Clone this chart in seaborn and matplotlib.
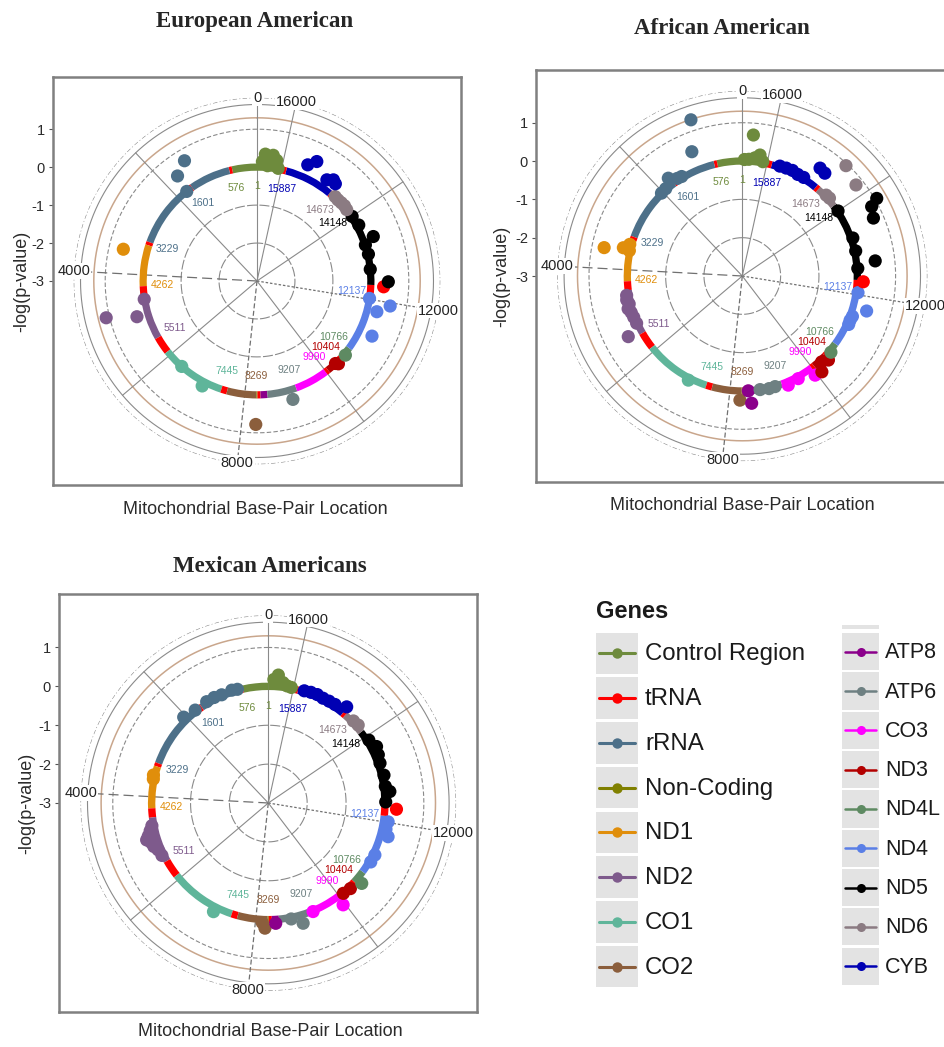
import numpy as np
import pandas as pd
import matplotlib
matplotlib.use("Agg")
import matplotlib.pyplot as plt
import seaborn as sns
from matplotlib.patches import Rectangle
from matplotlib.lines import Line2D

sns.set_theme(style="white")
plt.rcParams["font.family"] = ["Liberation Sans", "DejaVu Sans"]

# ---------------- data ----------------
GENOME = 16569

gene_names = ["Control Region", "tRNA", "rRNA", "Non-Coding", "ND1", "ND2", "CO1", "CO2",
              "ATP8", "ATP6", "CO3", "ND3", "ND4L", "ND4", "ND5", "ND6", "CYB"]
gene_colors = ["#6e8b3d", "#ff0000", "#4d7089", "#808000", "#e08e0b", "#7e5a8c", "#5fb59a", "#8b5e3c",
               "#8b008b", "#6e8082", "#ff00ff", "#b30000", "#5e8a62", "#5a7fe6", "#000000", "#8b7b82", "#0000b3"]
legend_col1 = ["Control Region", "tRNA", "rRNA", "Non-Coding", "ND1", "ND2", "CO1", "CO2"]
legend_col2 = ["ATP8", "ATP6", "CO3", "ND3", "ND4L", "ND4", "ND5", "ND6", "CYB"]

seg_gene = ["Control Region", "Control Region", "tRNA", "rRNA", "tRNA", "rRNA", "tRNA", "ND1", "tRNA",
            "ND2", "tRNA", "CO1", "tRNA", "CO2", "Non-Coding", "tRNA", "ATP8", "ATP6", "CO3", "tRNA",
            "ND3", "tRNA", "ND4L", "ND4", "tRNA", "ND5", "ND6", "tRNA", "CYB", "tRNA"]
seg_start = [16024, 0, 577, 648, 1602, 1671, 3230, 3307, 4263, 4470, 5512, 5904, 7446, 7586, 8270,
             8295, 8366, 8527, 9208, 9991, 10059, 10405, 10470, 10767, 12138, 12337, 14149, 14674,
             14747, 15888]
seg_end = [16569, 576, 647, 1601, 1670, 3229, 3306, 4262, 4469, 5511, 5903, 7445, 7585, 8269, 8294,
           8365, 8526, 9207, 9990, 10058, 10404, 10469, 10766, 12137, 12336, 14148, 14673, 14746,
           15887, 16023]

label_pos = [1, 576, 1601, 3229, 4262, 5511, 7445, 8269, 9207, 9990, 10404, 10766, 12137, 14148, 14673, 15887]
label_gene = ["Control Region", "Control Region", "rRNA", "rRNA", "ND1", "ND2", "CO1", "CO2", "ATP6",
              "CO3", "ND3", "ND4L", "ND4", "ND5", "ND6", "CYB"]

theta_breaks = [0, 4000, 8000, 12000, 16000]
theta_minor = [2000, 6000, 10000, 14000]
r_ticks = [1, 0, -1, -2, -3]

# European American
ea_gene = ["Control Region", "Control Region", "Control Region", "Control Region", "Control Region", "Control Region",
           "rRNA", "rRNA", "rRNA", "ND1", "ND2", "ND2", "ND2", "CO1", "CO1", "CO2", "ATP6", "ND3", "ND3", "ND4L",
           "ND4", "ND4", "ND4", "ND4", "tRNA",
           "ND5", "ND5", "ND5", "ND5", "ND5", "ND5", "ND5",
           "ND6", "ND6", "ND6", "ND6", "ND6",
           "CYB", "CYB", "CYB", "CYB", "CYB"]
ea_pos = [16395, 16230, 16140, 16450, 16330, 16080,
          1431, 1708, 1754, 3527, 4773, 4905, 4565, 6380, 7015, 8262, 9061, 10333, 10290, 10586,
          11765, 11937, 11248, 12022, 12306,
          12411, 13390, 12698, 13274, 13753, 13050, 14000,
          14200, 14300, 14400, 14500, 14600,
          15483, 15345, 14975, 14863, 14780]
ea_val = [0.35, 0.34, 0.22, 0.15, 0.05, 0.02,
          0.70, 0.47, 0.00, 0.62, 1.09, 0.30, 0.01, 0.00, 0.12, 0.78, 0.26, 0.06, 0.00, 0.04,
          0.26, 0.57, 0.36, 0.00, 0.34,
          0.46, 0.28, 0.00, 0.01, 0.06, 0.02, 0.03,
          0.02, 0.04, 0.03, 0.02, 0.03,
          0.34, 0.52, 0.24, 0.34, 0.29]

# African American
aa_gene = ["Control Region", "Control Region", "Control Region", "Control Region", "Control Region", "Control Region",
           "rRNA", "rRNA", "rRNA", "rRNA", "rRNA", "rRNA", "rRNA",
           "ND1", "ND1", "ND1", "ND1",
           "ND2", "ND2", "ND2", "ND2", "ND2", "ND2", "ND2", "ND2",
           "CO1", "CO2", "ATP8", "ATP8", "ATP6", "ATP6", "ATP6", "CO3", "CO3", "CO3",
           "ND3", "ND3", "ND3", "ND4L", "ND4", "ND4", "ND4", "ND4", "ND4", "tRNA",
           "ND5", "ND5", "ND5", "ND5", "ND5", "ND5", "ND5", "ND5",
           "ND6", "ND6", "ND6", "ND6",
           "CYB", "CYB", "CYB", "CYB", "CYB", "CYB", "CYB"]
aa_pos = [16362, 16186, 16290, 16420, 16100, 16520,
          838, 1017, 1708, 1444, 2038, 1550, 1900,
          3608, 3527, 3560, 3420,
          5431, 4580, 4680, 4780, 4880, 4980, 5100, 5250,
          7024, 8234, 8422, 8478, 9044, 8694, 8900, 9955, 9336, 9600,
          10388, 10112, 10250, 10553, 11703, 12050, 11500, 11400, 11300, 12301,
          13807, 13725, 13524, 12725, 13300, 13000, 12600, 14000,
          14580, 14207, 14450, 14350,
          14922, 14785, 15700, 15550, 15400, 15250, 15100]
aa_val = [0.69, 0.19, 0.10, 0.05, 0.03, 0.04,
          1.29, 0.50, 0.20, 0.04, 0.02, 0.06, 0.03,
          0.68, 0.19, 0.02, 0.05,
          0.37, 0.06, 0.08, 0.04, 0.10, 0.05, 0.03, 0.02,
          0.06, 0.24, 0.00, 0.33, 0.01, 0.00, 0.02, 0.21, 0.09, 0.05,
          0.14, 0.25, 0.05, 0.05, 0.37, 0.05, 0.06, 0.04, 0.05, 0.16,
          1.05, 0.83, 0.74, 0.49, 0.05, 0.03, 0.02, 0.02,
          0.95, 0.80, 0.04, 0.05,
          0.47, 0.44, 0.03, 0.04, 0.05, 0.02, 0.03]

# Mexican Americans
ma_gene = ["Control Region", "Control Region", "Control Region", "Control Region", "Control Region",
           "rRNA", "rRNA", "rRNA", "rRNA", "rRNA", "rRNA", "rRNA",
           "ND1", "ND1",
           "ND2", "ND2", "ND2", "ND2", "ND2", "ND2", "ND2", "ND2",
           "CO1", "CO2", "CO2", "ATP8", "ATP6", "ATP6", "CO3", "CO3", "ND3", "ND3", "ND4L",
           "ND4", "ND4", "ND4", "ND4", "ND4", "tRNA",
           "ND5", "ND5", "ND5", "ND5", "ND5", "ND5", "ND5", "ND5",
           "ND6", "ND6",
           "CYB", "CYB", "CYB", "CYB", "CYB", "CYB", "CYB"]
ma_pos = [16362, 16250, 16450, 16150, 16050,
          700, 825, 1073, 1250, 1441, 1758, 2052,
          3512, 3600,
          4650, 4750, 4850, 4920, 5000, 5100, 5200, 5350,
          7052, 8214, 8150, 8447, 9028, 8800, 9955, 9316, 10112, 10300, 10553,
          12015, 11850, 11703, 11230, 11050, 12298,
          13900, 13695, 13517, 13330, 13050, 12800, 12675, 12450,
          14310, 14450,
          14765, 15000, 15150, 15300, 15450, 15600, 15750]
ma_val = [0.30, 0.12, 0.18, 0.05, 0.03,
          0.03, 0.05, 0.03, 0.05, 0.05, 0.04, 0.10,
          0.04, 0.02,
          0.05, 0.12, 0.20, 0.27, 0.18, 0.15, 0.08, 0.05,
          0.13, 0.22, 0.08, 0.10, 0.22, 0.04, 0.25, 0.02, 0.02, 0.05, 0.17,
          0.12, 0.10, 0.20, 0.05, 0.04, 0.30,
          0.05, 0.14, 0.09, 0.05, 0.06, 0.04, 0.14, 0.02,
          0.06, 0.04,
          0.19, 0.06, 0.05, 0.04, 0.06, 0.05, 0.03]

# ---------------- figure ----------------
W, H = 944, 1047
fig = plt.figure(figsize=(W / 100, H / 100), dpi=100)
fig.patch.set_facecolor("white")
cmap = dict(zip(gene_names, gene_colors))
TWO_PI = 2 * np.pi
R_OUT = 1.83
HALF_UNITS = 5.375


def to_theta(p):
    return np.asarray(p, dtype=float) / GENOME * TWO_PI


def draw_panel(cx, cy, h, title, title_xy, xlab_xy, ylab_x, gene, pos, val):
    unit = h / HALF_UNITS
    # rectangular frame with the radial (y) axis
    fx = fig.add_axes([(cx - h) / W, 1 - (cy + h) / H, 2 * h / W, 2 * h / H])
    fx.set_facecolor("white")
    fx.set_xlim(-HALF_UNITS, HALF_UNITS)
    fx.set_ylim(-3 - HALF_UNITS, -3 + HALF_UNITS)
    fx.set_xticks([])
    fx.set_yticks(r_ticks)
    fx.set_yticklabels([str(t) for t in r_ticks])
    fx.tick_params(axis="y", left=True, length=3, width=0.8, color="#555555",
                   labelsize=10.5, labelcolor="#2b2b2b", pad=3)
    for s in fx.spines.values():
        s.set_color("#808080")
        s.set_linewidth(1.8)
    fx.set_ylabel("-log(p-value)", fontsize=13, color="#2b2b2b")
    fx.yaxis.set_label_coords((ylab_x - (cx - h)) / (2 * h), 0.5)
    fx.yaxis.label.set_verticalalignment("center")
    fx.set_xlabel("Mitochondrial Base-Pair Location", fontsize=13, color="#2b2b2b")
    fx.xaxis.set_label_coords((xlab_xy[0] - (cx - h)) / (2 * h), -(xlab_xy[1] - (cy + h)) / (2 * h))
    fx.xaxis.label.set_verticalalignment("center")

    # polar panel
    Rpx = (R_OUT + 3) * unit
    ax = fig.add_axes([(cx - Rpx) / W, 1 - (cy + Rpx) / H, 2 * Rpx / W, 2 * Rpx / H],
                      projection="polar")
    ax.set_facecolor("none")
    ax.set_theta_zero_location("N")
    ax.set_theta_direction(1)

    full = np.linspace(0, TWO_PI, 721)
    grid_c = "#8a8a8a"
    ax.plot(full, np.full_like(full, -2.0), color=grid_c, lw=0.8, dashes=(9, 2), zorder=1)
    ax.plot(full, np.full_like(full, -1.0), color=grid_c, lw=0.8, dashes=(9, 2), zorder=1)
    ax.plot(full, np.full_like(full, 1.0), color=grid_c, lw=0.8, dashes=(4, 2), zorder=1)
    ax.plot(full, np.full_like(full, 1.3), color="#c9a68c", lw=1.1, zorder=1)
    ax.plot(full, np.full_like(full, 1.65), color=grid_c, lw=0.8, zorder=1)
    ax.plot(full, np.full_like(full, R_OUT), color="#8a8a8a", lw=0.8, dashes=(4, 2, 1, 2), zorder=1)

    for b in theta_minor:
        t = to_theta(b)
        ax.plot([t, t], [-3, 1.65], color=grid_c, lw=0.8, zorder=1)
    for b in theta_breaks:
        t = to_theta(b)
        if b in (0, 16000):
            ax.plot([t, t], [-3, R_OUT], color=grid_c, lw=0.8, zorder=1)
        elif b == 4000:
            ax.plot([t, t], [-3, R_OUT], color="#707070", lw=0.9, dashes=(8, 4), zorder=1)
        elif b == 8000:
            ax.plot([t, t], [-3, R_OUT], color="#707070", lw=0.9, dashes=(4, 2), zorder=1)
        else:
            ax.plot([t, t], [-3, R_OUT], color="#707070", lw=0.9, dashes=(2, 1.5), zorder=1)
        ax.text(t, R_OUT, str(b), ha="center", va="center", fontsize=10.5, color="#222222", zorder=6,
                bbox=dict(facecolor="white", edgecolor="none", pad=0.6))

    # gene ring
    starts = np.asarray(seg_start, dtype=float)
    ends = np.asarray(seg_end, dtype=float)
    ax.bar(to_theta((starts + ends) / 2), 0.19, width=to_theta(ends - starts + 1), bottom=-0.095,
           color=[cmap[g] for g in seg_gene], edgecolor="none", align="center", zorder=3)

    # gene boundary labels
    for p, g in zip(label_pos, label_gene):
        ax.text(to_theta(p), -0.5, str(p), ha="center", va="center", fontsize=7.5, color=cmap[g], zorder=5)

    df = pd.DataFrame({"gene": gene, "pos": pos, "val": val})
    df["theta"] = to_theta(df["pos"])
    sns.scatterplot(data=df, x="theta", y="val", hue="gene", palette=cmap, s=90, linewidth=0,
                    legend=False, ax=ax, zorder=4)
    ax.set_xlabel("")
    ax.set_ylabel("")
    ax.set_ylim(-3, R_OUT)
    ax.set_xticks([])
    ax.set_yticks([])
    ax.grid(False)
    ax.spines["polar"].set_visible(False)

    fig.text(title_xy[0] / W, 1 - title_xy[1] / H, title, ha="center", va="center",
             fontsize=16.5, fontweight="bold", family=["Liberation Serif", "DejaVu Serif"])


draw_panel(257, 281, 204, "European American", (255, 22), (255, 509), 22, ea_gene, ea_pos, ea_val)
draw_panel(742.3, 276, 206, "African American", (722, 28), (742, 505), 502, aa_gene, aa_pos, aa_val)
draw_panel(268.3, 803, 209, "Mexican Americans", (270, 566), (270, 1032), 27, ma_gene, ma_pos, ma_val)

# ---------------- legend ----------------
lg = fig.add_axes([560 / W, 1 - 1040 / H, 384 / W, 450 / H])
lg.set_xlim(560, 944)
lg.set_ylim(1040, 590)
lg.axis("off")
lg.text(596, 612, "Genes", ha="left", va="center", fontsize=17, fontweight="bold", color="#1a1a1a")
key_bg = "#e3e3e3"
for i, g in enumerate(legend_col1):
    yc = 653.3 + i * 44.75
    lg.add_patch(Rectangle((596, yc - 20.8), 42, 41.6, facecolor=key_bg, edgecolor="none"))
    lg.add_line(Line2D([599, 635], [yc, yc], color=cmap[g], lw=2.2))
    lg.plot([617], [yc], marker="o", ms=7.5, color=cmap[g], mec="none")
    lg.text(645, yc + 1, g, ha="left", va="center", fontsize=17.3, color="#1a1a1a")
lg.add_patch(Rectangle((842, 625), 37, 4, facecolor=key_bg, edgecolor="none"))
for i, g in enumerate(legend_col2):
    yc = 651.7 + i * 39.3
    lg.add_patch(Rectangle((842, yc - 18.6), 37, 37.2, facecolor=key_bg, edgecolor="none"))
    lg.add_line(Line2D([845, 876], [yc, yc], color=cmap[g], lw=1.8))
    lg.plot([860.5], [yc], marker="o", ms=6.5, color=cmap[g], mec="none")
    lg.text(885, yc + 1, g, ha="left", va="center", fontsize=15.5, color="#1a1a1a")

fig.savefig("out.png", dpi=100, facecolor="white")
